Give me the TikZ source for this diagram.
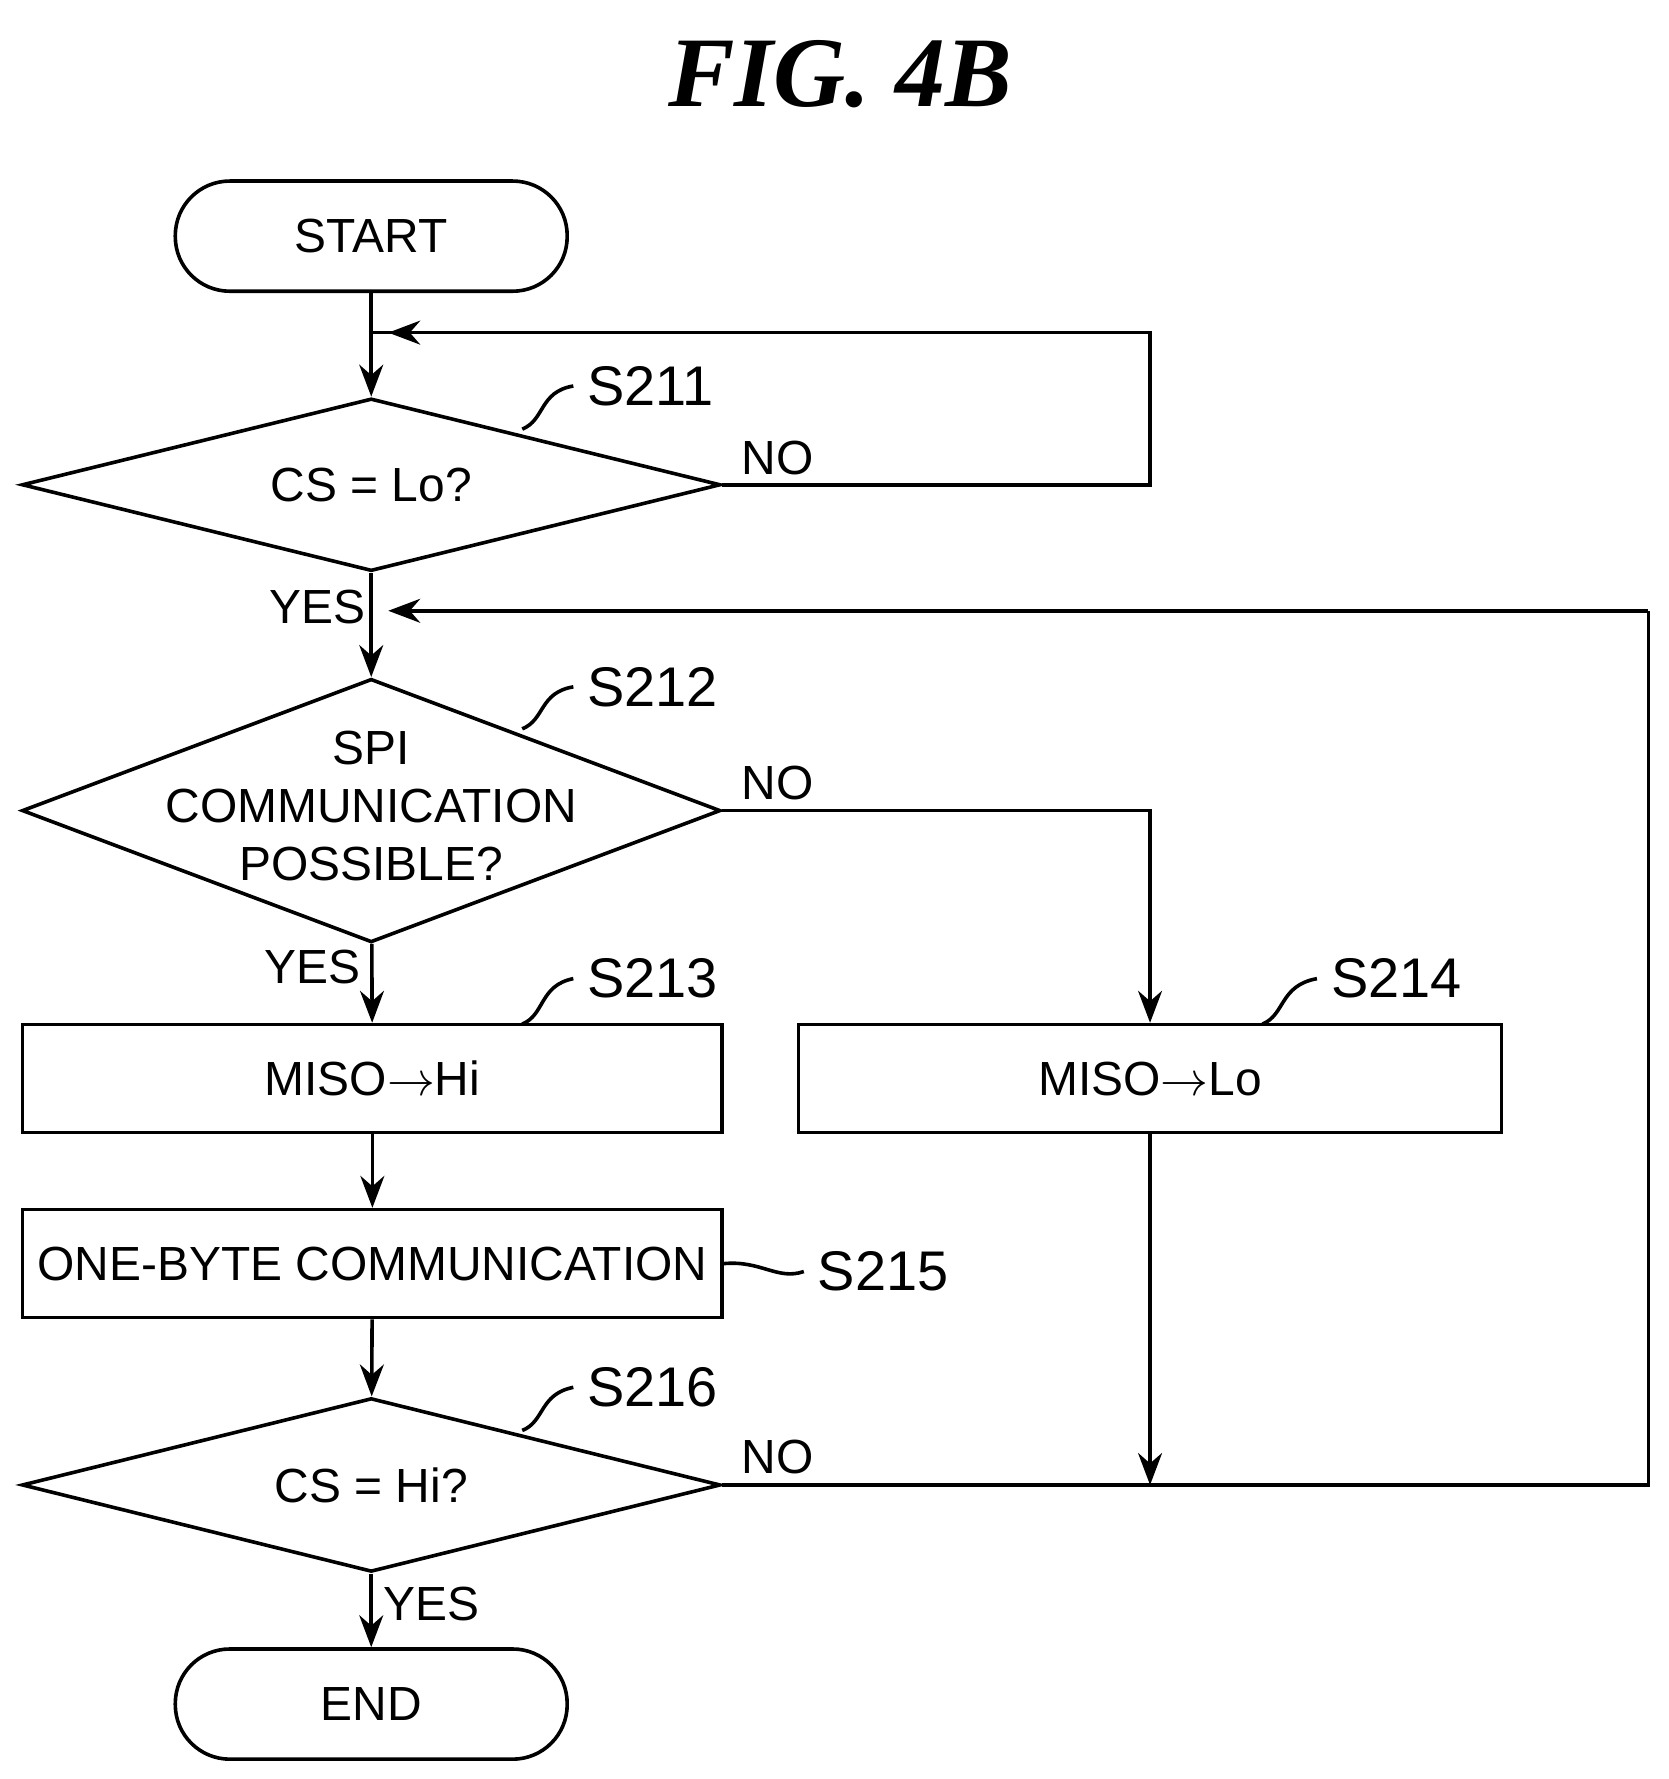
\documentclass[tikz,border=0pt]{standalone}
\usepackage{fontspec}
\setmainfont{Liberation Sans}
\newfontfamily\figfont{Liberation Serif}
\usetikzlibrary{shapes.geometric,arrows.meta}

\tikzset{
  flow/.style={line width=0.9pt},
  arr/.style={flow,-{Stealth[length=8pt,width=6pt]}},
  term/.style={flow,draw,rounded corners=0.48cm,minimum width=3.45cm,minimum height=0.97cm},
  proc/.style={flow,draw,inner sep=2pt,minimum width=6.16cm,minimum height=0.95cm},
  test/.style={flow,draw,diamond,inner sep=0pt},
  txt/.style={font=\fontsize{12}{14}\selectfont},
  tag/.style={font=\fontsize{14}{17}\selectfont,anchor=west}
}

\begin{document}
\begin{tikzpicture}[x=0.01cm,y=-0.01cm,txt]
\useasboundingbox (0,0) rectangle (1470,1567);

\node[font=\figfont\bfseries\itshape\fontsize{25}{30}\selectfont] (title) at (740,65) {FIG. 4B};

% nodes
\node[term] (start) at (327,208) {START};
\node[test,minimum width=6.15cm,minimum height=1.52cm] (d211) at (327,427) {};
\node (d211t) at (327,427) {CS = Lo?};
\node[test,minimum width=6.15cm,minimum height=2.32cm] (d212) at (327,714) {};
\node[align=center,font=\fontsize{12}{14.5}\selectfont] (d212t) at (327,710) {SPI\\COMMUNICATION\\POSSIBLE?};
\node[proc] (b213) at (328,950) {MISO$\rightarrow$Hi};
\node[proc,minimum width=6.19cm] (b214) at (1013,950) {MISO$\rightarrow$Lo};
\node[proc] (b215) at (328,1113) {ONE-BYTE COMMUNICATION};
\node[test,minimum width=6.15cm,minimum height=1.53cm] (d216) at (327,1308) {};
\node (d216t) at (327,1308) {CS = Hi?};
\node[term] (end) at (327,1501) {END};

% step labels
\node[tag] (s211) at (505,340) {S211};
\node[tag] (s212) at (505,605) {S212};
\node[tag] (s213) at (505,862) {S213};
\node[tag] (s214) at (1160,862) {S214};
\node[tag] (s215) at (708,1120) {S215};
\node[tag] (s216) at (505,1222) {S216};
\draw[flow] (460,378) .. controls (480,370) and (475,345) .. (s211.west);
\draw[flow] (460,642) .. controls (480,634) and (475,610) .. (s212.west);
\draw[flow] (460,902) .. controls (480,894) and (475,868) .. (s213.west);
\draw[flow] (1112,902) .. controls (1132,894) and (1127,868) .. (s214.west);
\draw[flow] (b215.east) .. controls (670,1110) and (685,1128) .. (s215.west);
\draw[flow] (460,1260) .. controls (480,1252) and (475,1228) .. (s216.west);

% branch words
\node (no1) at (685,403) {NO};
\node (yes1) at (280,535) {YES};
\node (no2) at (685,690) {NO};
\node (yes2) at (275,852) {YES};
\node (no3) at (685,1283) {NO};
\node (yes3) at (380,1413) {YES};

% connectors
\coordinate (j1) at (327,293);
\coordinate (j2) at (327,538);
\coordinate (j3) at (1013,1308);
\draw[arr] (start) -- (d211);
\draw[flow] (d211.east) -| (1013,293) -- (j1);
\draw[arr] (1013,293) -- (342,293);
\draw[arr] (d211) -- (d212);
\draw[arr] (d212.east) -| (b214.north);
\draw[arr] (d212) -- (b213);
\draw[arr] (b213) -- (b215);
\draw[arr] (b215) -- (d216);
\draw[arr] (b214.south) -- (j3);
\draw[flow] (d216.east) -| (1452,538);
\draw[arr] (1452,538) -- (342,538);
\draw[arr] (d216) -- (end);
\end{tikzpicture}
\end{document}
